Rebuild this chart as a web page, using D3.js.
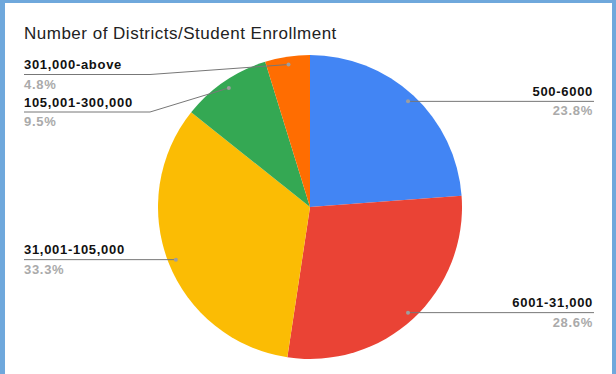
<!DOCTYPE html>
<html>
<head>
<meta charset="utf-8">
<script src="https://cdn.jsdelivr.net/npm/d3@7"></script>
<style>
  html, body { margin: 0; padding: 0; background: #ffffff; }
  svg { display: block; }
  text { font-family: "Liberation Sans", Arial, sans-serif; }
</style>
</head>
<body>
<svg id="chart" width="616" height="374"></svg>
<script>
// Enrollment bands and number of districts in each
const categories = ["500-6000", "6001-31,000", "31,001-105,000", "105,001-300,000", "301,000-above"];
const districts = [5, 6, 7, 2, 1];
const colors = ["#4285f4", "#ea4335", "#fbbc04", "#34a853", "#ff6d01"];
const title = "Number of Districts/Student Enrollment";

const W = 616, H = 374;
const cx = 310, cy = 207, R = 152;
const svg = d3.select("#chart");

// page frame
svg.append("rect").attr("x", 0).attr("y", 0).attr("width", W).attr("height", H).attr("fill", "#6fa8dc");
svg.append("rect").attr("x", 5).attr("y", 3).attr("width", W - 9).attr("height", H - 3).attr("fill", "#ffffff");

svg.append("text")
  .attr("x", 24).attr("y", 39)
  .attr("font-size", 17)
  .attr("letter-spacing", 0.5)
  .attr("fill", "#222")
  .text(title);

const total = d3.sum(districts);
const pct = d3.format(".1%");
const color = d3.scaleOrdinal().domain(categories).range(colors);

const pie = d3.pie().sort(null).value(d => d.value);
const arcs = pie(categories.map((c, i) => ({ name: c, value: districts[i] })));

const arc = d3.arc().innerRadius(0).outerRadius(R);
const dotArc = d3.arc().innerRadius(R * 0.948).outerRadius(R * 0.948);

const g = svg.append("g").attr("transform", `translate(${cx},${cy})`);
g.selectAll("path.slice")
  .data(arcs)
  .join("path")
  .attr("class", "slice")
  .attr("d", arc)
  .attr("fill", d => color(d.data.name));

// label layout: right side labels end near the right edge, left side start at the margin
const leftX = 24, rightX = 594, elbowX = 150, rowGap = 37.5, topMin = 74.5;
const labels = arcs.map(d => {
  const [x, y] = dotArc.centroid(d);
  const mid = (d.startAngle + d.endAngle) / 2;
  return { d, dx: cx + x, dy: cy + y, right: mid < Math.PI };
});
["left", "right"].forEach(side => {
  const group = labels.filter(l => (side === "right") === l.right).sort((a, b) => a.dy - b.dy);
  let prev = -Infinity;
  group.forEach(l => {
    l.ly = Math.max(l.dy, prev + rowGap, topMin);
    prev = l.ly;
  });
});

const lg = svg.append("g");
labels.forEach(l => {
  const endX = l.right ? rightX : leftX;
  let pts;
  if (Math.abs(l.ly - l.dy) < 0.5) {
    pts = [[l.dx, l.ly], [endX, l.ly]];
  } else {
    pts = [[l.dx, l.dy], [elbowX, l.ly], [endX, l.ly]];
  }
  lg.append("path")
    .attr("d", d3.line()(pts))
    .attr("fill", "none")
    .attr("stroke", "#777")
    .attr("stroke-width", 1);
  lg.append("circle")
    .attr("cx", l.dx).attr("cy", l.dy).attr("r", 2)
    .attr("fill", "#9e9e9e");
  const tx = l.right ? rightX - 1 : leftX;
  const anchor = l.right ? "end" : "start";
  lg.append("text")
    .attr("x", tx).attr("y", l.ly - 5.5)
    .attr("text-anchor", anchor)
    .attr("font-size", 13).attr("font-weight", "bold")
    .attr("letter-spacing", 0.7)
    .attr("fill", "#111")
    .text(l.d.data.name);
  lg.append("text")
    .attr("x", tx).attr("y", l.ly + 14)
    .attr("text-anchor", anchor)
    .attr("font-size", 13).attr("font-weight", "bold")
    .attr("letter-spacing", 0.7)
    .attr("fill", "#aaaaaa")
    .text(pct(l.d.data.value / total));
});
</script>
</body>
</html>
